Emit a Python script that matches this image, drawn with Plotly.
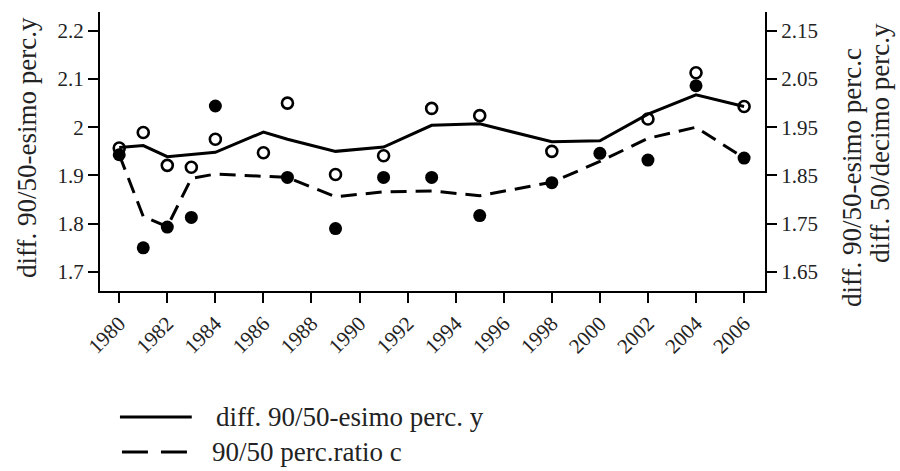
import plotly.graph_objects as go

# Smoothed series (lines)
years_y_line = [1980, 1981, 1982, 1984, 1986, 1987, 1989, 1991, 1993, 1995, 1998, 2000, 2002, 2004, 2006]
diff_9050_y_line = [1.958, 1.962, 1.939, 1.948, 1.990, 1.975, 1.950, 1.959, 2.004, 2.007, 1.970, 1.972, 2.027, 2.067, 2.043]

years_c_line = [1980, 1981, 1982, 1983, 1984, 1987, 1989, 1991, 1993, 1995, 1998, 2000, 2002, 2004, 2006]
ratio_9050_c_line = [1.893, 1.765, 1.744, 1.844, 1.853, 1.846, 1.806, 1.816, 1.818, 1.808, 1.836, 1.879, 1.927, 1.950, 1.886]

# Observed points
years_y_pts = [1980, 1981, 1982, 1983, 1984, 1986, 1987, 1989, 1991, 1993, 1995, 1998, 2002, 2004, 2006]
diff_9050_y_pts = [1.957, 1.989, 1.921, 1.917, 1.975, 1.947, 2.050, 1.902, 1.941, 2.039, 2.024, 1.950, 2.017, 2.113, 2.043]

years_c_pts = [1980, 1981, 1982, 1983, 1984, 1987, 1989, 1991, 1993, 1995, 1998, 2000, 2002, 2004, 2006]
diff_9050_c_pts = [1.893, 1.700, 1.743, 1.763, 1.994, 1.846, 1.740, 1.846, 1.846, 1.767, 1.835, 1.896, 1.882, 2.036, 1.886]

left_ticks = [1.7, 1.8, 1.9, 2.0, 2.1, 2.2]
left_labels = ["1.7", "1.8", "1.9", "2", "2.1", "2.2"]
right_ticks = [1.65, 1.75, 1.85, 1.95, 2.05, 2.15]
right_labels = ["1.65", "1.75", "1.85", "1.95", "2.05", "2.15"]
x_ticks = list(range(1980, 2007, 2))

legend_labels = ["diff. 90/50-esimo perc. y", "90/50 perc.ratio c"]

FONT = "'Liberation Serif', 'DejaVu Serif', serif"
BLACK = "#000000"

fig = go.Figure()

fig.add_trace(go.Scatter(
    x=years_y_pts, y=diff_9050_y_pts, mode="markers",
    marker=dict(symbol="circle-open", size=11, color=BLACK, line=dict(width=2.6, color=BLACK)),
    showlegend=False, yaxis="y"))
fig.add_trace(go.Scatter(
    x=years_c_pts, y=diff_9050_c_pts, mode="markers",
    marker=dict(symbol="circle", size=13, color=BLACK),
    showlegend=False, yaxis="y2"))
fig.add_trace(go.Scatter(
    x=years_y_line, y=diff_9050_y_line, mode="lines",
    line=dict(color=BLACK, width=3),
    name=legend_labels[0], showlegend=False, yaxis="y"))
fig.add_trace(go.Scatter(
    x=years_c_line, y=ratio_9050_c_line, mode="lines",
    line=dict(color=BLACK, width=3, dash="16px,9px"),
    name=legend_labels[1], showlegend=False, yaxis="y2"))

axis_common = dict(
    showline=True, linecolor=BLACK, linewidth=2,
    ticks="outside", ticklen=10, tickwidth=2, tickcolor=BLACK,
    showgrid=False, zeroline=False,
    tickfont=dict(family=FONT, size=21, color="#222222"),
)

fig.update_layout(
    width=900, height=471,
    margin=dict(l=100, r=135, t=12, b=180),
    plot_bgcolor="white", paper_bgcolor="white",
    font=dict(family=FONT, color=BLACK),
    xaxis=dict(range=[1979.2, 2006.87], tickvals=x_ticks, tickangle=-45, **axis_common),
    yaxis=dict(range=[1.6606, 2.2388], tickvals=left_ticks, ticktext=left_labels, **axis_common),
    yaxis2=dict(range=[1.6106, 2.1888], tickvals=right_ticks, ticktext=right_labels,
                overlaying="y", side="right", **axis_common),
)

title_font = dict(family=FONT, size=27, color="#222222")
fig.add_annotation(text="diff. 90/50-esimo perc.y", xref="paper", yref="paper",
                   x=-0.1098, y=0.516, textangle=-90, showarrow=False,
                   xanchor="center", yanchor="middle", font=title_font)
fig.add_annotation(text="diff. 90/50-esimo perc.c", xref="paper", yref="paper",
                   x=1.1308, y=0.4086, textangle=-90, showarrow=False,
                   xanchor="center", yanchor="middle", font=title_font)
fig.add_annotation(text="diff. 50/decimo perc.y", xref="paper", yref="paper",
                   x=1.1729, y=0.5305, textangle=-90, showarrow=False,
                   xanchor="center", yanchor="middle", font=title_font)

# Legend keys and labels below the plot
legend_font = dict(family=FONT, size=27, color="#222222")
fig.add_shape(type="line", xref="paper", yref="paper", x0=0.030, x1=0.138, y0=-0.4516, y1=-0.4516,
              line=dict(color=BLACK, width=3))
fig.add_shape(type="line", xref="paper", yref="paper", x0=0.033, x1=0.135, y0=-0.577, y1=-0.577,
              line=dict(color=BLACK, width=3, dash="26px,13px"))
fig.add_annotation(text=legend_labels[0], xref="paper", yref="paper", x=0.171, y=-0.4516,
                   xanchor="left", yanchor="middle", showarrow=False, font=legend_font)
fig.add_annotation(text=legend_labels[1], xref="paper", yref="paper", x=0.165, y=-0.577,
                   xanchor="left", yanchor="middle", showarrow=False, font=legend_font)

fig.write_html("out.html")
